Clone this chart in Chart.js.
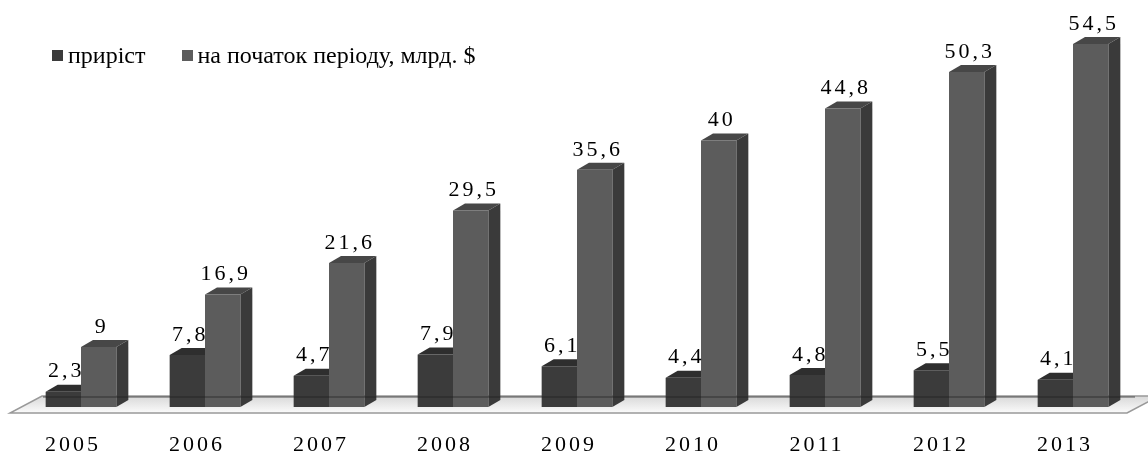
<!DOCTYPE html>
<html>
<head>
<meta charset="utf-8">
<script src="https://cdn.jsdelivr.net/npm/chart.js@4"></script>
<style>
  html, body { margin: 0; padding: 0; background: #fff; }
  #wrap { position: relative; width: 1148px; height: 454px; }
  #legend { position: absolute; left: 52px; top: 42px; display: flex; gap: 36px;
            font-family: 'Liberation Serif', 'Times New Roman', serif; font-size: 24px; color: #000; }
  #legend span.item { display: flex; align-items: center; }
  #legend span.box { display: inline-block; width: 11px; height: 11px; margin-right: 5px; }
</style>
</head>
<body>
<div id="wrap">
  <canvas id="chart" width="1148" height="454"></canvas>
  <div id="legend"></div>
</div>
<script>
// данные
const years = ['2005', '2006', '2007', '2008', '2009', '2010', '2011', '2012', '2013'];
const growth = [2.3, 7.8, 4.7, 7.9, 6.1, 4.4, 4.8, 5.5, 4.1];
const startValues = [9, 16.9, 21.6, 29.5, 35.6, 40, 44.8, 50.3, 54.5];
const seriesNames = ['приріст', 'на початок періоду, млрд. $'];

const FONT = "'Liberation Serif', 'Times New Roman', serif";

// смещение для объёма
const DX = 12, DY = -7;
const faces = [
  { front: '#3b3b3b', top: '#2e2e2e', side: '#262626' },
  { front: '#5c5c5c', top: '#474747', side: '#3a3a3a' }
];

// пол и боковые/верхние грани столбцов
const depthPlugin = {
  id: 'depth',
  beforeDraw(chart) {
    chart.ctx.letterSpacing = '3px';
  },
  beforeDatasetsDraw(chart) {
    const ctx = chart.ctx;
    const area = chart.chartArea;
    const y0 = chart.scales.y.getPixelForValue(0);
    // пол
    ctx.save();
    const g = ctx.createLinearGradient(0, y0 - 11, 0, y0 + 6);
    g.addColorStop(0, '#d8d8d8');
    g.addColorStop(1, '#fbfbfb');
    ctx.beginPath();
    ctx.moveTo(area.left - 9, y0 + 6);
    ctx.lineTo(area.right - 8, y0 + 6);
    ctx.lineTo(area.right + 24, y0 - 11);
    ctx.lineTo(area.left + 23, y0 - 11);
    ctx.closePath();
    ctx.fillStyle = g;
    ctx.fill();
    ctx.strokeStyle = '#999';
    ctx.lineWidth = 1.5;
    ctx.stroke();
    ctx.restore();

    chart.data.datasets.forEach((ds, di) => {
      const meta = chart.getDatasetMeta(di);
      meta.data.forEach(bar => {
        const l = bar.x - bar.width / 2, r = bar.x + bar.width / 2;
        ctx.save();
        ctx.fillStyle = faces[di].top;
        ctx.beginPath();
        ctx.moveTo(l, bar.y);
        ctx.lineTo(l + DX, bar.y + DY);
        ctx.lineTo(r + DX, bar.y + DY);
        ctx.lineTo(r, bar.y);
        ctx.closePath();
        ctx.fill();
        ctx.fillStyle = faces[di].side;
        ctx.beginPath();
        ctx.moveTo(r, bar.y);
        ctx.lineTo(r + DX, bar.y + DY);
        ctx.lineTo(r + DX, bar.base + DY);
        ctx.lineTo(r, bar.base);
        ctx.closePath();
        ctx.fill();
        ctx.restore();
      });
    });
  },
  afterDatasetsDraw(chart) {
    const ctx = chart.ctx;
    const area = chart.chartArea;
    const y0 = chart.scales.y.getPixelForValue(0);
    // тёмная полоса пола поверх столбцов
    ctx.save();
    ctx.strokeStyle = 'rgba(30,30,30,0.35)';
    ctx.lineWidth = 2;
    ctx.beginPath();
    ctx.moveTo(area.left + 24, y0 - 10);
    ctx.lineTo(area.right, y0 - 10);
    ctx.stroke();
    // подписи значений
    ctx.fillStyle = '#000';
    ctx.font = '22px ' + FONT;
    ctx.textAlign = 'center';
    ctx.textBaseline = 'middle';
    chart.data.datasets.forEach((ds, di) => {
      chart.getDatasetMeta(di).data.forEach((bar, i) => {
        const txt = String(ds.data[i]).replace('.', ',');
        ctx.fillText(txt, bar.x + 3, bar.y - 20);
      });
    });
    ctx.restore();
  }
};

const ctx = document.getElementById('chart').getContext('2d');
const chart = new Chart(ctx, {
  type: 'bar',
  data: {
    labels: years,
    datasets: [{
      label: seriesNames[0],
      data: growth,
      backgroundColor: faces[0].front
    }, {
      label: seriesNames[1],
      data: startValues,
      backgroundColor: faces[1].front
    }]
  },
  options: {
    responsive: false,
    animation: false,
    events: [],
    layout: { padding: { top: 14, left: 19, right: 13, bottom: 0 } },
    datasets: {
      bar: { categoryPercentage: 0.57, barPercentage: 1.0, borderWidth: 0 }
    },
    scales: {
      x: {
        grid: { display: false, drawTicks: false },
        border: { display: false },
        ticks: {
          color: '#000',
          font: { family: FONT, size: 22 },
          padding: 25,
          labelOffset: -8,
          maxRotation: 0
        },
        afterFit: s => { s.height = 47; }
      },
      y: {
        display: false,
        min: 0,
        max: 59
      }
    },
    plugins: {
      tooltip: { enabled: false },
      legend: { display: false }
    }
  },
  plugins: [depthPlugin]
});

// легенда в HTML
const legendEl = document.getElementById('legend');
chart.data.datasets.forEach(ds => {
  const item = document.createElement('span');
  item.className = 'item';
  const box = document.createElement('span');
  box.className = 'box';
  box.style.background = ds.backgroundColor;
  item.appendChild(box);
  item.appendChild(document.createTextNode(ds.label));
  legendEl.appendChild(item);
});
</script>
</body>
</html>
